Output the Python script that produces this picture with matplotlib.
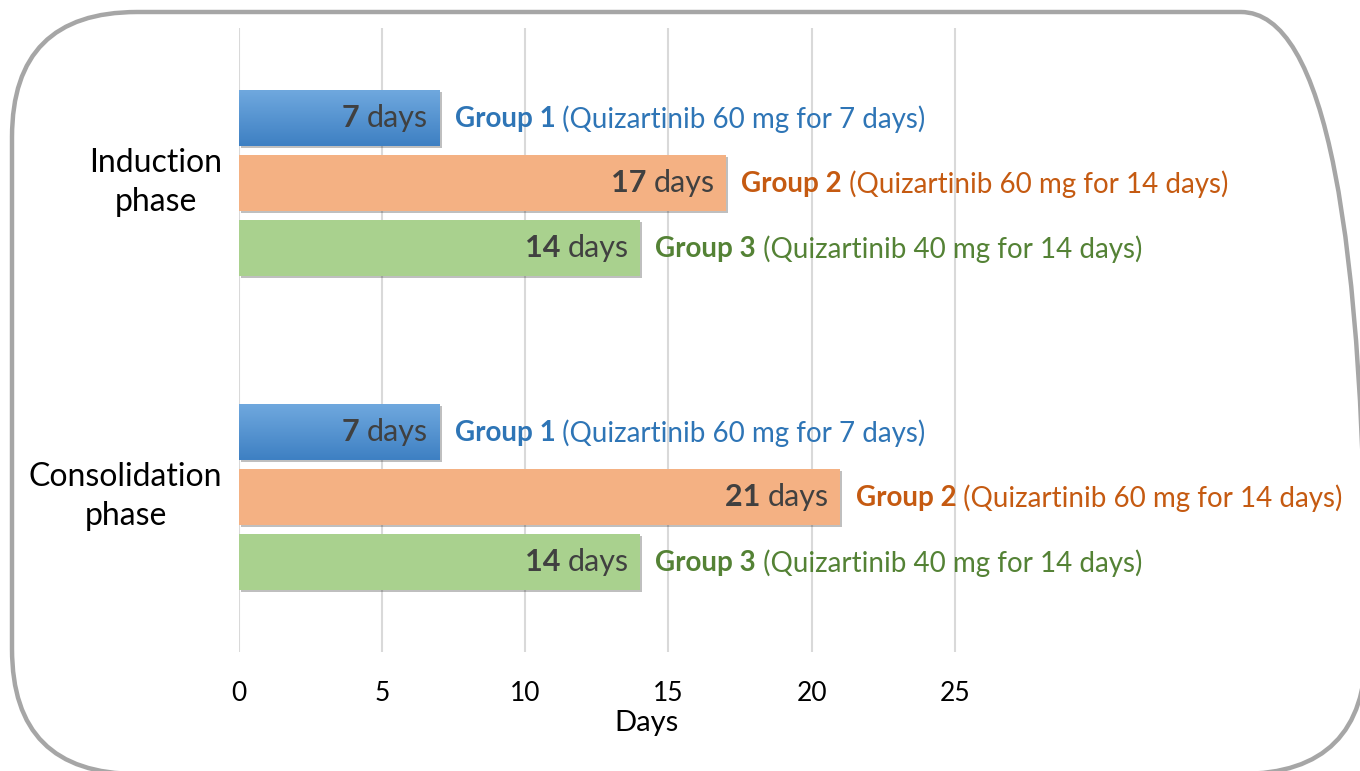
import numpy as np
import matplotlib.pyplot as plt
import matplotlib.patches as mpatches
import matplotlib.patheffects as pe
from matplotlib.colors import LinearSegmentedColormap
from matplotlib.transforms import IdentityTransform

plt.rcParams["font.family"] = ["Lato", "DejaVu Sans"]

# data
phases = ["Induction\nphase", "Consolidation\nphase"]
groups = ["Group 1", "Group 2", "Group 3"]
regimens = [
    "(Quizartinib 60 mg for 7 days)",
    "(Quizartinib 60 mg for 14 days)",
    "(Quizartinib 40 mg for 14 days)",
]
induction_days = [7, 17, 14]
consolidation_days = [7, 21, 14]
x_ticks = [0, 5, 10, 15, 20, 25]

bar_colors = ["#5B9BD5", "#F4B183", "#A9D18E"]
text_colors = ["#2E75B6", "#C55A11", "#548235"]
value_color = "#404040"

W, H = 1360, 771
fig = plt.figure(figsize=(W / 100, H / 100), dpi=100)
fig.patch.set_facecolor("white")

# rounded frame around the whole figure
frame = mpatches.FancyBboxPatch(
    (12 + 125, -3 + 125), 1366 - 12 - 250, 762 - 250,
    boxstyle="round,pad=125", transform=IdentityTransform(),
    facecolor="none", edgecolor="#A6A6A6", linewidth=3.2, zorder=0)
fig.patches.append(frame)

ax = fig.add_axes([239 / W, 1 - 652 / H, (1055 - 239) / W, (652 - 28) / H])
ax.set_xlim(0, 28.5)
ax.set_ylim(9.6, 0)

phase_centers = [2.385, 7.215]
offsets = [-1.0, 0.0, 1.0]
bar_h = 0.86
blue_grad = LinearSegmentedColormap.from_list("blu", ["#6FA8DE", "#3E80C3"])

for pc, values in zip(phase_centers, [induction_days, consolidation_days]):
    for i, v in enumerate(values):
        y = pc + offsets[i]
        bars = ax.barh(y, v, height=bar_h, color=bar_colors[i],
                       edgecolor="none", zorder=3)
        rect = bars[0]
        rect.set_path_effects([
            pe.SimplePatchShadow(offset=(1.5, -1.5), shadow_rgbFace="black", alpha=0.25),
            pe.Normal()])
        if i == 0:
            # blue bars have a light-to-dark vertical gradient
            grad = np.linspace(0, 1, 64).reshape(-1, 1)
            im = ax.imshow(grad, cmap=blue_grad, aspect="auto",
                           extent=(0, v, y + bar_h / 2, y - bar_h / 2),
                           zorder=3.5)
            im.set_clip_path(rect)
            ax.set_xlim(0, 28.5)
            ax.set_ylim(9.6, 0)

        # value label inside the bar: bold number + " days"
        t_days = ax.annotate("days", xy=(v, y), xytext=(-8, 0),
                             textcoords="offset points", ha="right", va="center",
                             fontsize=22, color=value_color, zorder=5)
        ax.annotate(f"{v} ", xy=(0, 0.5), xycoords=t_days, ha="right", va="center",
                    fontsize=22, fontweight="bold", color=value_color, zorder=5)

        # group label to the right of the bar
        t_grp = ax.annotate(groups[i], xy=(v, y), xytext=(11, -1),
                            textcoords="offset points", ha="left", va="center",
                            fontsize=20, fontweight="bold", color=text_colors[i],
                            annotation_clip=False, zorder=5)
        ax.annotate(" " + regimens[i], xy=(1, 0.5), xycoords=t_grp, ha="left",
                    va="center", fontsize=20, color=text_colors[i],
                    annotation_clip=False, zorder=5)

ax.set_xticks(x_ticks)
ax.set_xticklabels([str(t) for t in x_ticks], fontsize=19)
ax.set_yticks([pc - 0.13 for pc in phase_centers])
ax.set_yticklabels(phases, fontsize=23, linespacing=1.4)
ax.tick_params(axis="both", length=0)
ax.tick_params(axis="x", pad=21)
ax.tick_params(axis="y", pad=12)
for lbl in ax.get_yticklabels():
    lbl.set_multialignment("center")
ax.set_xlabel("Days", fontsize=21, labelpad=3)

ax.grid(axis="x", color="#D9D9D9", linewidth=1.5, zorder=0)
ax.set_axisbelow(True)
for s in ax.spines.values():
    s.set_visible(False)
ax.set_facecolor("none")

fig.savefig("out.png", dpi=100)
